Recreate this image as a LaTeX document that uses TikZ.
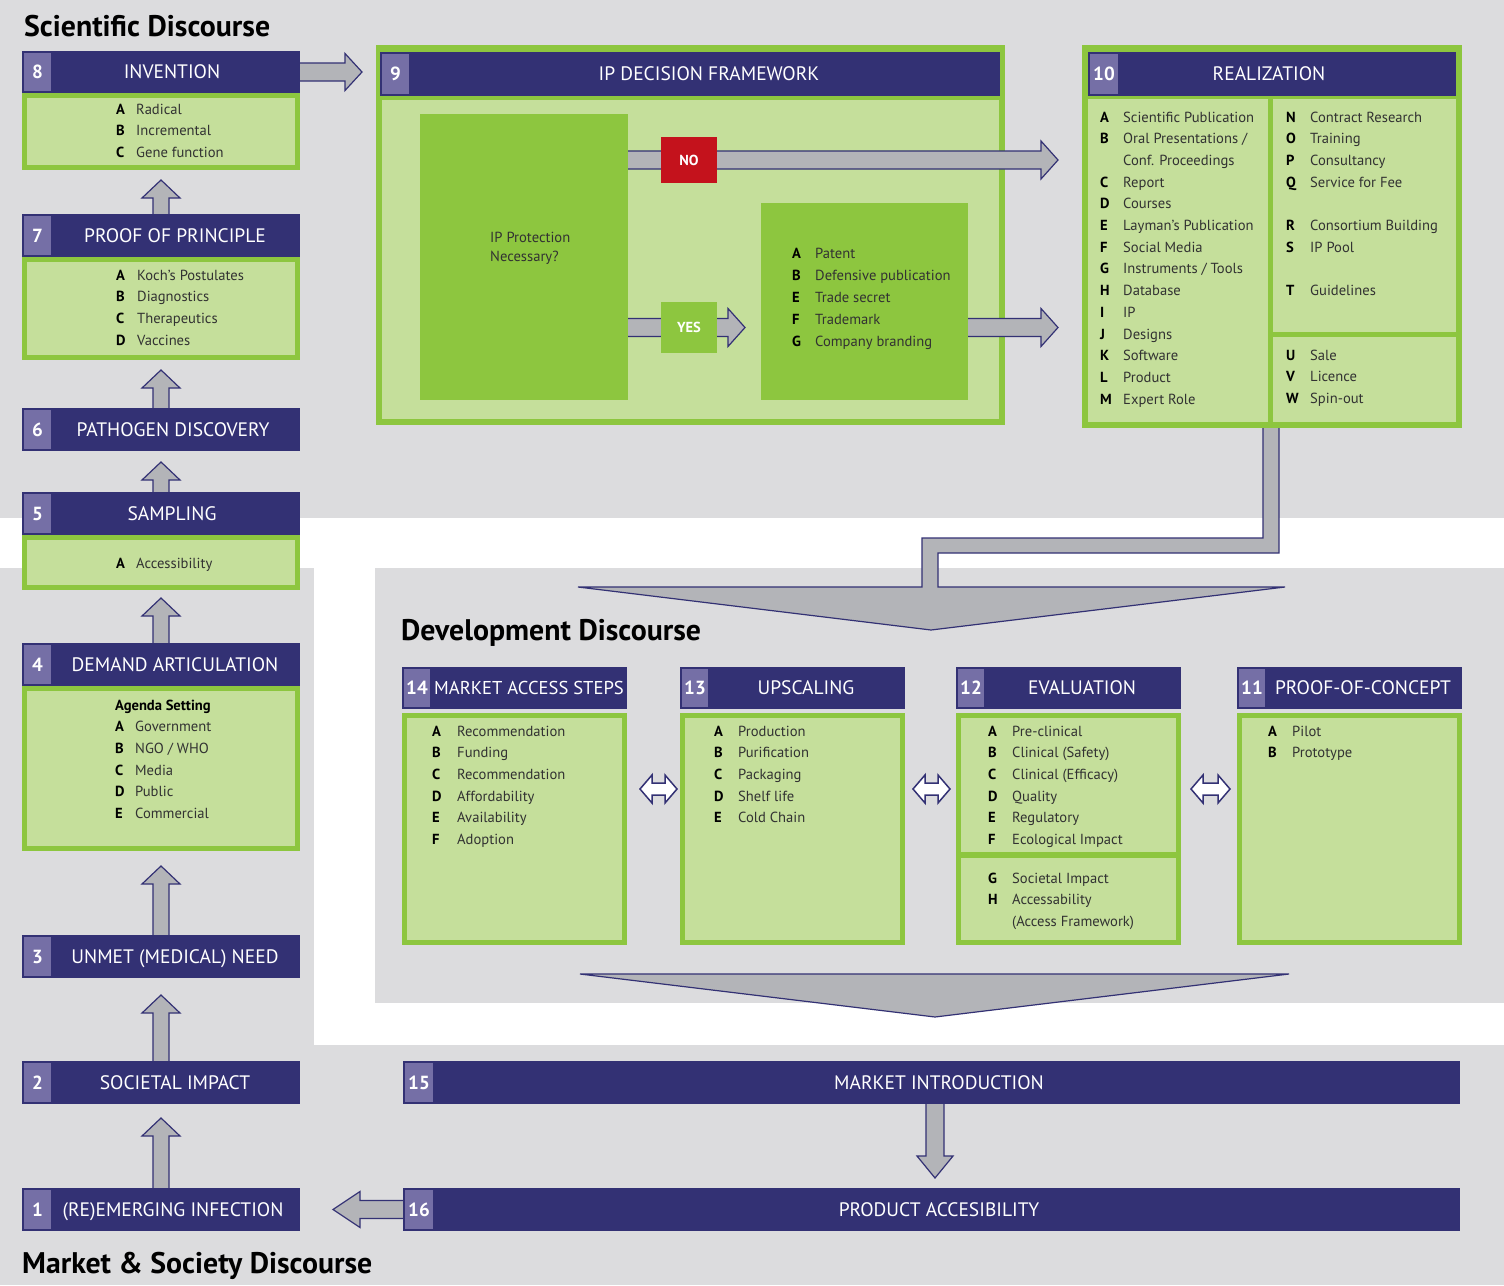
\documentclass[tikz,border=0pt]{standalone}
\usepackage{fontspec}
\setmainfont{PT Sans}
\newfontfamily\hdfont{PT Sans}
\newfontfamily\ttlfont{PT Sans}
\usetikzlibrary{calc}
\definecolor{navy}{RGB}{51,49,116}
\definecolor{numpurple}{RGB}{117,111,166}
\definecolor{grn}{RGB}{141,198,63}
\definecolor{lgrn}{RGB}{197,223,155}
\definecolor{bggray}{RGB}{220,220,222}
\definecolor{agray}{RGB}{179,180,184}
\definecolor{nored}{RGB}{196,18,28}
\definecolor{txtgray}{RGB}{50,50,50}
\pgfdeclarelayer{bg}\pgfdeclarelayer{arr}\pgfsetlayers{bg,arr,main}
\newcommand\bx[6]{\node[#1, minimum width={#5-#3}, minimum height={#6-#4}] (#2) at (#3,#4) {};}
\newcommand\bxt[7]{\node[#1, minimum width={#5-#3}, minimum height={#6-#4}] (#2) at (#3,#4) {#7};}
\newcommand\gbx[5]{\node[gbody, minimum width={#4-#2-5}, minimum height={#5-#3-5}] (#1) at (#2,#3) {};}
\newcommand\itm[2]{\textbf{\color{black}#1}&#2}
\newcommand\lsttab[2]{\begin{tabular}[t]{@{}p{#1pt}@{}l@{}}#2\end{tabular}}
\newcommand\FatArr[5]{%
 \coordinate (faT) at #1; \coordinate (faP) at #2;
 \coordinate (faH) at ($(faP)!#5pt!(faT)$);
 \coordinate (fa1) at ($(faT)!#3pt!90:(faP)$);
 \coordinate (fa2) at ($(faH)!#3pt!90:(faP)$);
 \coordinate (fa3) at ($(faH)!#4pt!90:(faP)$);
 \coordinate (fa4) at ($(faH)!#4pt!-90:(faP)$);
 \coordinate (fa5) at ($(faH)!#3pt!-90:(faP)$);
 \coordinate (fa6) at ($(faT)!#3pt!-90:(faP)$);
 \fill[agray] (fa1) -- (fa2) -- (fa3) -- (faP) -- (fa4) -- (fa5) -- (fa6) -- cycle;
 \draw[navy, line width=1.2pt, line join=miter] (fa1) -- (fa2) -- (fa3) -- (faP) -- (fa4) -- (fa5) -- (fa6);
}
\newcommand\DblArr[5]{%
 \coordinate (daL) at #1; \coordinate (daR) at #2;
 \coordinate (daA) at ($(daL)!#5pt!(daR)$);
 \coordinate (daB) at ($(daR)!#5pt!(daL)$);
 \draw[dblarr] (daL) -- ($(daA)!#4pt!90:(daR)$) -- ($(daA)!#3pt!90:(daR)$) -- ($(daB)!#3pt!-90:(daL)$) -- ($(daB)!#4pt!-90:(daL)$) -- (daR) -- ($(daB)!#4pt!90:(daL)$) -- ($(daB)!#3pt!90:(daL)$) -- ($(daA)!#3pt!-90:(daR)$) -- ($(daA)!#4pt!-90:(daR)$) -- cycle;
}
\begin{document}
\begin{tikzpicture}[x=1pt,y=-1pt,
 hdr/.style={fill=navy, inner sep=0, outer sep=0, anchor=north west},
 num/.style={fill=numpurple, text=white, font=\bfseries\fontsize{19}{19}\selectfont, inner sep=0, outer sep=0, anchor=north west},
 htext/.style={text=white, font=\hdfont\fontsize{19.5}{19.5}\selectfont, inner sep=0, anchor=base},
 gbody/.style={draw=grn, fill=lgrn, line width=5pt, inner sep=0, anchor=north west},
 gfill/.style={fill=grn, inner sep=0, outer sep=0, anchor=north west},
 lfill/.style={fill=lgrn, inner sep=0, outer sep=0, anchor=north west},
 lst/.style={inner sep=0, anchor=base west, font=\fontsize{14.6}{21.7}\selectfont, text=txtgray},
 ttl/.style={font=\ttlfont\bfseries\fontsize{29.8}{29.8}\selectfont, inner sep=0, anchor=base west, text=black},
 nobx/.style={fill=nored, text=white, font=\bfseries\fontsize{14.5}{14.5}\selectfont, inner sep=0, outer sep=0, anchor=north west},
 yesbx/.style={fill=grn, text=white, font=\bfseries\fontsize{14.5}{14.5}\selectfont, inner sep=0, outer sep=0, anchor=north west},
 fatarr/.style={draw=navy, fill=agray, line width=1.2pt, line join=miter},
 dblarr/.style={draw=navy, fill=white, line width=1.5pt, line join=miter}]
\useasboundingbox (0,0) rectangle (1504,1285);
\begin{pgfonlayer}{bg}
 \fill[white] (0,0) rectangle (1504,1285);
 \fill[bggray] (0,0) rectangle (1504,518);
 \fill[bggray] (0,568) rectangle (314,1285);
 \fill[bggray] (375,568) rectangle (1504,1003);
 \fill[bggray] (0,1045) rectangle (1504,1285);
 \bx{gfill}{f9}{376}{45}{1005}{425}
 \bx{lfill}{i9}{382}{100}{999}{419}
\end{pgfonlayer}

% titles
\node[ttl] (tsci) at (24,36) {Scientific Discourse};
\node[ttl] (tdev) at (401,640) {Development Discourse};
\node[ttl] (tmkt) at (22,1273) {Market \& Society Discourse};

% ---- left column
\bx{hdr}{h8}{22}{51}{300}{93}
\bxt{num}{n8}{24}{53}{51}{91}{8}
\node[htext] (t8) at (172,78.8) {INVENTION};
\gbx{b8}{22}{93}{300}{170}
\node[lst] (l8) at (116,114) {\lsttab{20}{\itm{A}{Radical}\\\itm{B}{Incremental}\\\itm{C}{Gene function}}};

\bx{hdr}{h7}{22}{214}{300}{257}
\bxt{num}{n7}{24}{216}{51}{255}{7}
\node[htext] (t7) at (175,242.3) {PROOF OF PRINCIPLE};
\gbx{b7}{22}{257}{300}{360}
\node[lst] (l7) at (116,280) {\lsttab{21}{\itm{A}{Koch's Postulates}\\\itm{B}{Diagnostics}\\\itm{C}{Therapeutics}\\\itm{D}{Vaccines}}};

\bx{hdr}{h6}{22}{408}{300}{451}
\bxt{num}{n6}{24}{410}{51}{449}{6}
\node[htext] (t6) at (173,436.3) {PATHOGEN DISCOVERY};

\bx{hdr}{h5}{22}{492}{300}{535}
\bxt{num}{n5}{24}{494}{51}{533}{5}
\node[htext] (t5) at (172,520.3) {SAMPLING};
\gbx{b5}{22}{535}{300}{590}
\node[lst] (l5) at (116,568) {\lsttab{20}{\itm{A}{Accessibility}}};

\bx{hdr}{h4}{22}{643}{300}{686}
\bxt{num}{n4}{24}{645}{51}{684}{4}
\node[htext] (t4) at (175,671.3) {DEMAND ARTICULATION};
\gbx{b4}{22}{686}{300}{851}
\node[lst] (l4) at (115,710) {\lsttab{20}{\multicolumn{2}{@{}l@{}}{\textbf{\color{black}Agenda Setting}}\\\itm{A}{Government}\\\itm{B}{NGO / WHO}\\\itm{C}{Media}\\\itm{D}{Public}\\\itm{E}{Commercial}}};

\bx{hdr}{h3}{22}{935}{300}{978}
\bxt{num}{n3}{24}{937}{51}{976}{3}
\node[htext] (t3) at (175,963.3) {UNMET (MEDICAL) NEED};

\bx{hdr}{h2}{22}{1061}{300}{1104}
\bxt{num}{n2}{24}{1063}{51}{1102}{2}
\node[htext] (t2) at (175,1089.3) {SOCIETAL IMPACT};

\bx{hdr}{h1}{22}{1188}{300}{1231}
\bxt{num}{n1}{24}{1190}{51}{1229}{1}
\node[htext] (t1) at (173,1216.3) {(RE)EMERGING INFECTION};

% ---- box 9
\bx{hdr}{h9}{380}{52}{1000}{96}
\bxt{num}{n9}{382}{54}{409}{94}{9}
\node[htext] (t9) at (709,80.8) {IP DECISION FRAMEWORK};
\bx{gfill}{q9}{420}{114}{628}{400}
\node[lst, font=\fontsize{14.6}{19}\selectfont] (tq9) at (490,242) {\begin{tabular}[t]{@{}l@{}}IP Protection\\Necessary?\end{tabular}};
\bx{gfill}{o9}{761}{203}{968}{400}
\node[lst, font=\fontsize{14.6}{22}\selectfont] (lo9) at (792,258) {\lsttab{23}{\itm{A}{Patent}\\\itm{B}{Defensive publication}\\\itm{E}{Trade secret}\\\itm{F}{Trademark}\\\itm{G}{Company branding}}};
\bxt{nobx}{nobox}{661}{137}{717}{183}{NO}
\bxt{yesbx}{yesbox}{661}{302}{717}{353}{YES}

% ---- box 10
\bx{gfill}{f10}{1082}{45}{1462}{428}
\bx{hdr}{h10}{1088}{52}{1456}{96}
\bxt{num}{n10}{1090}{54}{1118}{94}{10}
\node[htext] (t10) at (1269,80.8) {REALIZATION};
\bx{lfill}{l10}{1088}{99}{1268}{422}
\bx{lfill}{rt10}{1273}{99}{1456}{332}
\bx{lfill}{rb10}{1273}{337}{1456}{422}
\node[lst] (ll10) at (1100,122) {\lsttab{23}{\itm{A}{Scientific Publication}\\\itm{B}{Oral Presentations /}\\&Conf. Proceedings\\\itm{C}{Report}\\\itm{D}{Courses}\\\itm{E}{Layman's Publication}\\\itm{F}{Social Media}\\\itm{G}{Instruments / Tools}\\\itm{H}{Database}\\\itm{I}{IP}\\\itm{J}{Designs}\\\itm{K}{Software}\\\itm{L}{Product}\\\itm{M}{Expert Role}}};
\node[lst] (lr10) at (1286,122) {\lsttab{24}{\itm{N}{Contract Research}\\\itm{O}{Training}\\\itm{P}{Consultancy}\\\itm{Q}{Service for Fee}\\&\\\itm{R}{Consortium Building}\\\itm{S}{IP Pool}\\&\\\itm{T}{Guidelines}}};
\node[lst] (lb10) at (1286,360) {\lsttab{24}{\itm{U}{Sale}\\\itm{V}{Licence}\\\itm{W}{Spin-out}}};

% ---- development boxes
\bx{hdr}{h14}{402}{667}{627}{709}
\bxt{num}{n14}{404}{669}{430}{707}{14}
\node[htext, font=\hdfont\fontsize{18.6}{18.6}\selectfont] (t14) at (529,694.5) {MARKET ACCESS STEPS};
\gbx{b14}{402}{713}{627}{945}
\node[lst] (l14) at (432,736) {\lsttab{25}{\itm{A}{Recommendation}\\\itm{B}{Funding}\\\itm{C}{Recommendation}\\\itm{D}{Affordability}\\\itm{E}{Availability}\\\itm{F}{Adoption}}};

\bx{hdr}{h13}{680}{667}{905}{709}
\bxt{num}{n13}{682}{669}{708}{707}{13}
\node[htext] (t13) at (806,694.8) {UPSCALING};
\gbx{b13}{680}{713}{905}{945}
\node[lst] (l13) at (714,736) {\lsttab{24}{\itm{A}{Production}\\\itm{B}{Purification}\\\itm{C}{Packaging}\\\itm{D}{Shelf life}\\\itm{E}{Cold Chain}}};

\bx{hdr}{h12}{956}{667}{1181}{709}
\bxt{num}{n12}{958}{669}{984}{707}{12}
\node[htext] (t12) at (1082,694.8) {EVALUATION};
\bx{gfill}{b12}{956}{713}{1181}{945}
\bx{lfill}{b12a}{961}{718}{1176}{852}
\bx{lfill}{b12b}{961}{858}{1176}{940}
\node[lst] (l12a) at (988,736) {\lsttab{24}{\itm{A}{Pre-clinical}\\\itm{B}{Clinical (Safety)}\\\itm{C}{Clinical (Efficacy)}\\\itm{D}{Quality}\\\itm{E}{Regulatory}\\\itm{F}{Ecological Impact}}};
\node[lst] (l12b) at (988,883) {\lsttab{24}{\itm{G}{Societal Impact}\\\itm{H}{Accessability}\\&(Access Framework)}};

\bx{hdr}{h11}{1237}{667}{1462}{709}
\bxt{num}{n11}{1239}{669}{1265}{707}{11}
\node[htext] (t11) at (1363,694.8) {PROOF-OF-CONCEPT};
\gbx{b11}{1237}{713}{1462}{945}
\node[lst] (l11) at (1268,736) {\lsttab{24}{\itm{A}{Pilot}\\\itm{B}{Prototype}}};

% ---- market boxes
\bx{hdr}{h15}{403}{1061}{1460}{1104}
\bxt{num}{n15}{405}{1063}{433}{1102}{15}
\node[htext] (t15) at (939,1089.3) {MARKET INTRODUCTION};
\bx{hdr}{h16}{403}{1188}{1460}{1231}
\bxt{num}{n16}{405}{1190}{433}{1229}{16}
\node[htext] (t16) at (939,1216.3) {PRODUCT ACCESIBILITY};

% ---- arrows
\begin{pgfonlayer}{arr}
 \FatArr{(h7.north)}{($(b8.south)+(0,10)$)}{8}{19}{18}
 \FatArr{(h6.north)}{($(b7.south)+(0,10)$)}{8}{19}{18}
 \FatArr{(h5.north)}{($(h6.south)+(0,11)$)}{8}{19}{18}
 \FatArr{(h4.north)}{($(b5.south)+(0,8)$)}{8}{19}{18}
 \FatArr{(h3.north)}{($(b4.south)+(0,15)$)}{8}{19}{18}
 \FatArr{(h2.north)}{($(h3.south)+(0,17)$)}{8}{19}{18}
 \FatArr{(h1.north)}{($(h2.south)+(0,14)$)}{8}{19}{18}
 \FatArr{(h8.east)}{($(f9.west |- h8.east)+(-14,0)$)}{9}{18.5}{17}
 \FatArr{(q9.east |- nobox.center)}{($(f10.west |- nobox.center)+(-24,0)$)}{9}{19}{17}
 \FatArr{(q9.east |- yesbox.center)}{($(o9.west |- yesbox.center)+(-16,0)$)}{9}{19}{17}
 \FatArr{(o9.east |- yesbox.center)}{($(f10.west |- yesbox.center)+(-24,0)$)}{9}{19}{17}
 \FatArr{($(h15.south west)+(532,0)$)}{($(h16.north west)+(532,-10)$)}{9}{18}{22}
 \FatArr{(h16.west)}{($(h1.east)+(33,0)$)}{9}{18}{27}
 % realization -> development funnel
 \fill[agray] ($(f10.south west)+(181,-2)$) -- (1263,538) -- (922,538) -- (922,587) -- (578,587) -- (931,630) -- (1285,587) -- (938,587) -- (938,553) -- (1279,553) -- ($(f10.south west)+(197,-2)$) -- cycle;
 \draw[navy, line width=1.2pt, line join=miter] ($(f10.south west)+(181,0)$) -- (1263,538) -- (922,538) -- (922,587) -- (578,587) -- (931,630) -- (1285,587) -- (938,587) -- (938,553) -- (1279,553) -- ($(f10.south west)+(197,0)$);
\end{pgfonlayer}
% development -> market funnel
\path[fatarr] (580,974) -- (1289,974) -- (935,1017) -- cycle;
% double arrows
\coordinate (dy) at (0,789);
\DblArr{($(b14.east |- dy)+(13,0)$)}{($(b13.west |- dy)+(-3,0)$)}{6}{14}{12}
\DblArr{($(b13.east |- dy)+(8,0)$)}{($(b12.west |- dy)+(-6,0)$)}{6}{14}{12}
\DblArr{($(b12.east |- dy)+(10,0)$)}{($(b11.west |- dy)+(-7,0)$)}{6}{14}{12}
\end{tikzpicture}
\end{document}
